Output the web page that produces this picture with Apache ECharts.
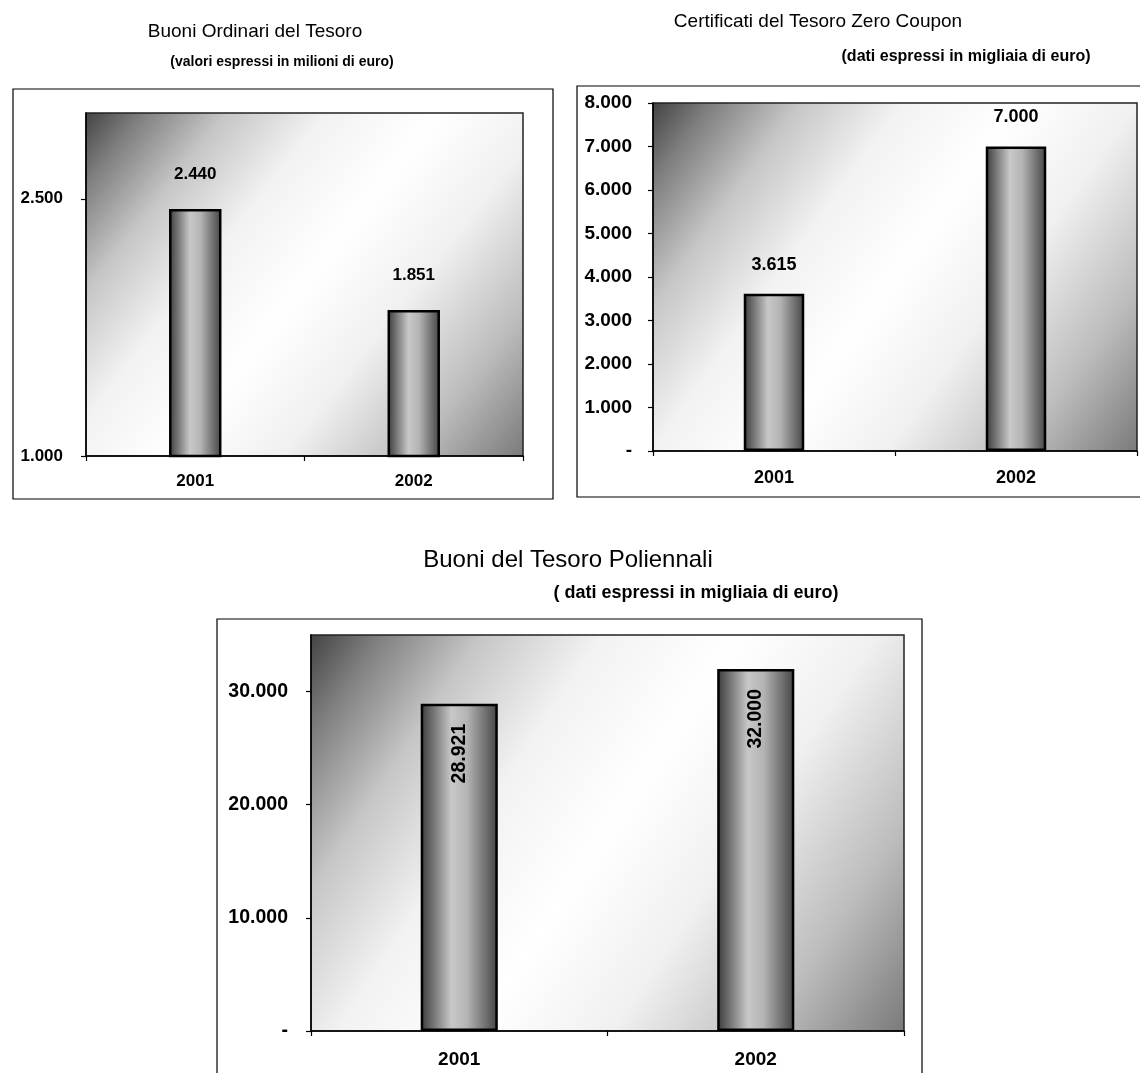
<!DOCTYPE html>
<html>
<head>
<meta charset="utf-8">
<script src="https://cdn.jsdelivr.net/npm/echarts@6/dist/echarts.min.js"></script>
<style>
  html, body { margin: 0; padding: 0; background: #ffffff; }
  #chart { width: 1140px; height: 1073px; }
</style>
</head>
<body>
<div id="chart"></div>
<script>
// Years shown on every category axis
const years = ['2001', '2002'];

// Buoni Ordinari del Tesoro (milioni di euro)
const botValues = [2440, 1851];
const botTicks = [1000, 2500];

// Certificati del Tesoro Zero Coupon (migliaia di euro)
const ctzValues = [3615, 7000];
const ctzTicks = [0, 1000, 2000, 3000, 4000, 5000, 6000, 7000, 8000];

// Buoni del Tesoro Poliennali (migliaia di euro)
const btpValues = [28921, 32000];
const btpTicks = [0, 10000, 20000, 30000];

const FONT = '"Liberation Sans", Arial, sans-serif';

// Italian-style thousands separator; zero is shown as a dash
function fmt(v) {
  if (v === 0) return '-';
  return String(Math.round(v)).replace(/\B(?=(\d{3})+(?!\d))/g, '.');
}

const chart = echarts.init(document.getElementById('chart'), null, { renderer: 'canvas' });

// Shaded plot background: dark corner top-left, white diagonal, grey bottom-right
function plotShade() {
  return new echarts.graphic.LinearGradient(0, 0, 1, 1, [
    { offset: 0, color: '#424242' },
    { offset: 0.08, color: '#7e7e7e' },
    { offset: 0.2, color: '#c6c6c6' },
    { offset: 0.34, color: '#f2f2f2' },
    { offset: 0.5, color: '#ffffff' },
    { offset: 0.66, color: '#f0f0f0' },
    { offset: 0.84, color: '#bcbcbc' },
    { offset: 1, color: '#7a7a7a' }
  ]);
}

// Cylinder-like shading of the bars
function barShade() {
  return new echarts.graphic.LinearGradient(0, 0, 1, 0, [
    { offset: 0, color: '#3a3a3a' },
    { offset: 0.4, color: '#c8c8c8' },
    { offset: 0.6, color: '#b4b4b4' },
    { offset: 1, color: '#444444' }
  ]);
}

function grid(left, right, top, bottom) {
  return {
    left, right, top, bottom,
    show: true,
    backgroundColor: plotShade(),
    borderColor: '#222',
    borderWidth: 1.5
  };
}

function xAxis(gridIndex, fontSize, margin) {
  return {
    type: 'category',
    gridIndex,
    data: years,
    axisLine: { lineStyle: { color: '#000', width: 1.5 } },
    axisTick: { show: true, length: 5, lineStyle: { color: '#000', width: 1.2 } },
    axisLabel: { color: '#000', fontFamily: FONT, fontWeight: 'bold', fontSize, margin },
    splitLine: { show: false }
  };
}

function yAxis(gridIndex, min, max, ticks, fontSize, margin) {
  return {
    type: 'value',
    gridIndex,
    min, max,
    axisLine: { show: true, lineStyle: { color: '#000', width: 1.5 } },
    axisTick: { show: true, length: 5, customValues: ticks, lineStyle: { color: '#000', width: 1.2 } },
    axisLabel: {
      color: '#000', fontFamily: FONT, fontWeight: 'bold', fontSize, margin,
      customValues: ticks,
      formatter: fmt
    },
    splitLine: { show: false }
  };
}

function bars(index, values, barWidth, label) {
  return {
    type: 'bar',
    xAxisIndex: index,
    yAxisIndex: index,
    data: values,
    barWidth,
    itemStyle: { color: barShade(), borderColor: '#000', borderWidth: 2.5 },
    label: Object.assign({
      show: true,
      color: '#000',
      fontFamily: FONT,
      fontWeight: 'bold',
      formatter: p => fmt(p.value)
    }, label),
    emphasis: { disabled: true }
  };
}

function heading(text, x, y, size, weight) {
  return {
    type: 'text',
    x, y,
    style: {
      text, fill: '#000',
      font: weight + ' ' + size + 'px ' + FONT,
      textAlign: 'center', textVerticalAlign: 'middle'
    }
  };
}

function frame(x, y, w, h) {
  return {
    type: 'rect',
    shape: { x, y, width: w, height: h },
    style: { fill: null, stroke: '#000', lineWidth: 1.2 },
    z: 0
  };
}

chart.setOption({
  animation: false,
  backgroundColor: '#ffffff',
  grid: [
    grid(86, 617, 113, 617),
    grid(653, 3, 103, 622),
    grid(311, 236, 635, 42)
  ],
  xAxis: [
    xAxis(0, 17, 17),
    xAxis(1, 18, 18),
    xAxis(2, 19, 19)
  ],
  yAxis: [
    yAxis(0, 1000, 3000, botTicks, 17, 23),
    yAxis(1, 0, 8000, ctzTicks, 19, 21),
    yAxis(2, 0, 35000, btpTicks, 19.5, 23)
  ],
  series: [
    bars(0, botValues, '24%', { position: 'top', distance: 26, fontSize: 17 }),
    bars(1, ctzValues, '25%', { position: 'top', distance: 20, fontSize: 18 }),
    bars(2, btpValues, '26%', {
      position: 'insideTop', rotate: 90, align: 'right', verticalAlign: 'middle',
      distance: 20, fontSize: 19.5
    })
  ],
  graphic: [
    frame(13, 89, 540, 410),
    frame(577, 86, 600, 411),
    frame(217, 619, 705, 480),
    heading('Buoni Ordinari del Tesoro', 255, 32, 19, 'normal'),
    heading('(valori espressi in milioni di euro)', 282, 62, 14, 'bold'),
    heading('Certificati del Tesoro Zero Coupon', 818, 22, 19, 'normal'),
    heading('(dati espressi in migliaia di euro)', 966, 57, 16, 'bold'),
    heading('Buoni del Tesoro Poliennali', 568, 560, 24, 'normal'),
    heading('( dati espressi in migliaia di euro)', 696, 593, 18, 'bold')
  ]
});
</script>
</body>
</html>
